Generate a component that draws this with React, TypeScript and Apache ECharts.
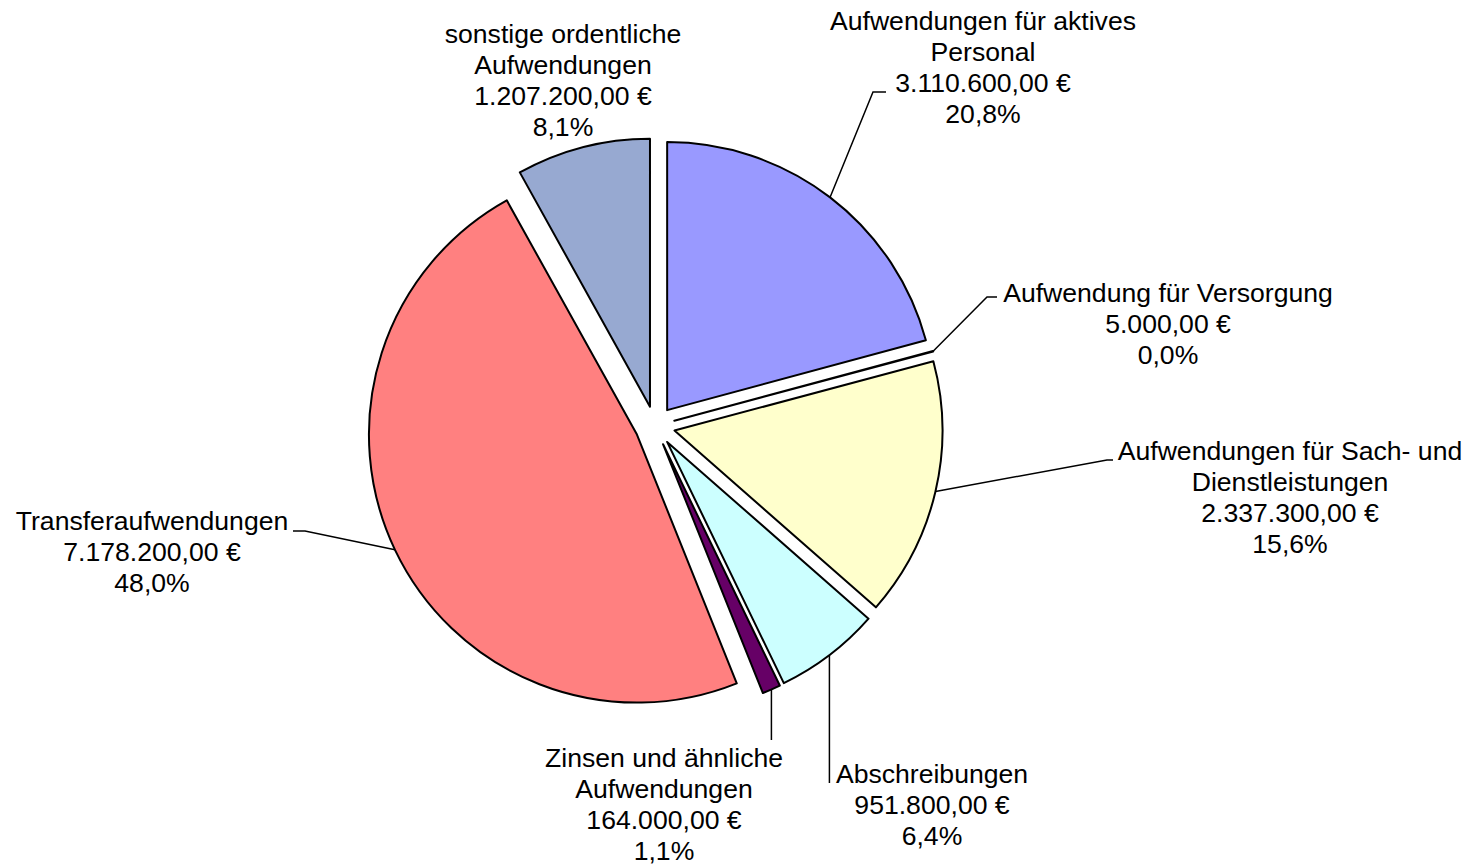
import React, { useEffect, useRef } from 'react';
import * as echarts from 'echarts';

const categories = [
  'Aufwendungen für aktives\nPersonal',
  'Aufwendung für Versorgung',
  'Aufwendungen für Sach- und\nDienstleistungen',
  'Abschreibungen',
  'Zinsen und ähnliche\nAufwendungen',
  'Transferaufwendungen',
  'sonstige ordentliche\nAufwendungen',
];
const values = [3110600, 5000, 2337300, 951800, 164000, 7178200, 1207200];
const colors = ['#9999FF', '#993366', '#FFFFCC', '#CCFFFF', '#660066', '#FF8080', '#97A9D1'];

// label block centres and leader-line elbows (layout only)
const labelPos: number[][] = [
  [983, 67], [1168, 324], [1290, 497], [932, 805], [664, 804], [152, 552], [563, 80],
];
const leaders: ({ ex: number | null; ey: number; hx: number } | null)[] = [
  { ex: 873, ey: 92, hx: 13 },
  { ex: 987, ey: 297, hx: 10 },
  { ex: 1107, ey: 460, hx: 6 },
  { ex: null, ey: 783, hx: 0 },
  { ex: null, ey: 740, hx: 0 },
  { ex: 305, ey: 531, hx: -12 },
  null,
];

const CENTER = [655, 426];
const RADIUS = 268;
const OFFSET = 20;

const total = values.reduce((a, b) => a + b, 0);

function fmtEuro(v: number): string {
  const [i, d] = v.toFixed(2).split('.');
  return i.replace(/\B(?=(\d{3})+(?!\d))/g, '.') + ',' + d + ' €';
}
function fmtPct(v: number): string {
  return ((v / total) * 100).toFixed(1).replace('.', ',') + '%';
}

export default function App() {
  const ref = useRef<HTMLDivElement>(null);
  useEffect(() => {
    if (!ref.current) return;
    const chart = echarts.init(ref.current, undefined, { renderer: 'svg' });
    const common = {
      type: 'pie',
      center: CENTER,
      radius: RADIUS,
      startAngle: 90,
      clockwise: true,
      avoidLabelOverlap: false,
      emphasis: { disabled: true },
    };
    const option: any = {
      animation: false,
      backgroundColor: '#ffffff',
      series: [
        {
          ...common,
          name: 'slices',
          selectedMode: 'multiple',
          selectedOffset: OFFSET,
          itemStyle: { borderColor: '#000', borderWidth: 2 },
          select: { itemStyle: { borderColor: '#000', borderWidth: 2 } },
          label: { show: false },
          labelLine: { show: false },
          data: values.map((v, i) => ({
            name: categories[i],
            value: v,
            selected: true,
            itemStyle: { color: colors[i] },
          })),
        },
        {
          ...common,
          name: 'labels',
          silent: true,
          itemStyle: { color: 'rgba(0,0,0,0)', borderWidth: 0 },
          label: {
            show: true,
            position: 'outside',
            color: '#000',
            fontFamily: 'Liberation Sans, Arial, sans-serif',
            fontSize: 26.6,
            lineHeight: 31,
            align: 'center',
            formatter: (p: any) => `${p.name}\n${fmtEuro(p.value)}\n${fmtPct(p.value)}`,
          },
          labelLine: {
            show: true,
            length: 10,
            length2: 10,
            lineStyle: { color: '#000', width: 1.5 },
          },
          labelLayout: (params: any) => {
            const i = params.dataIndex;
            const pos = labelPos[i];
            const res: any = { x: pos[0], y: pos[1], align: 'center', verticalAlign: 'middle' };
            const ld = leaders[i];
            const pts = params.labelLinePoints;
            if (ld && pts && pts.length) {
              const s = pts[0];
              const ux = (s[0] - CENTER[0]) / RADIUS;
              const uy = (s[1] - CENTER[1]) / RADIUS;
              const sx = s[0] + ux * OFFSET;
              const sy = s[1] + uy * OFFSET;
              const ex = ld.ex == null ? sx : ld.ex;
              res.labelLinePoints = [
                [sx, sy],
                [ex, ld.ey],
                [ex + ld.hx, ld.ey],
              ];
            }
            return res;
          },
          data: values.map((v, i) => ({
            name: categories[i],
            value: v,
            labelLine: leaders[i] ? undefined : { show: false },
          })),
        },
      ],
    };
    chart.setOption(option);
    return () => chart.dispose();
  }, []);
  return (
    <div
      ref={ref}
      style={{ position: 'absolute', left: 0, top: 0, width: 1475, height: 865 }}
    />
  );
}
